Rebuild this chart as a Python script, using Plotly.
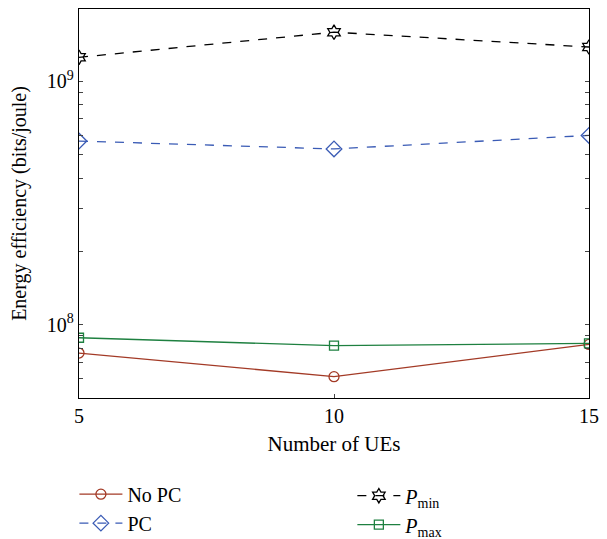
import plotly.graph_objects as go
import numpy as np

ues = [5, 10, 15]
no_pc = [7.65e7, 6.12e7, 8.3e7]
pc = [5.68e8, 5.27e8, 5.99e8]
p_min = [1.254e9, 1.59e9, 1.382e9]
p_max = [8.84e7, 8.2e7, 8.38e7]

FONT = "Liberation Serif"
FS = 20
fig = go.Figure()
fig.add_trace(go.Scatter(x=ues, y=no_pc, name="No PC", mode="lines+markers", legend="legend",
                         line=dict(color="#A33A26", width=1.3),
                         marker=dict(symbol="circle-open", size=10, color="#A33A26", line=dict(width=1.3))))
fig.add_trace(go.Scatter(x=ues, y=pc, name="PC", mode="lines+markers", legend="legend",
                         line=dict(color="#3A5BB5", width=1.3, dash="dash"),
                         marker=dict(symbol="diamond-open", size=12, color="#3A5BB5", line=dict(width=1.3))))
fig.add_trace(go.Scatter(x=ues, y=p_min, name="<i>P</i><sub>min</sub>", mode="lines+markers", legend="legend2",
                         line=dict(color="black", width=1.3, dash="dash"),
                         marker=dict(symbol="hexagram-open", size=11, color="black", line=dict(width=1.3))))
fig.add_trace(go.Scatter(x=ues, y=p_max, name="<i>P</i><sub>max</sub>", mode="lines+markers", legend="legend2",
                         line=dict(color="#1E8040", width=1.3),
                         marker=dict(symbol="square-open", size=9, color="#1E8040", line=dict(width=1.3))))

tickvals = []
ticktext = []
for e in [7, 8, 9]:
    for m in range(1, 10):
        v = m * 10 ** e
        if 5e7 <= v <= 2e9:
            tickvals.append(v)
            ticktext.append(f"10<sup>{e}</sup>" if m == 1 else "")

leg_common = dict(orientation="v", xanchor="left", yanchor="top", bgcolor="rgba(0,0,0,0)",
                  font=dict(family=FONT, size=FS), tracegroupgap=0, itemwidth=43)
fig.update_layout(
    width=607, height=531,
    margin=dict(l=71, r=26, t=1, b=141, autoexpand=False),
    paper_bgcolor="white", plot_bgcolor="white",
    font=dict(family=FONT, size=FS, color="black"),
    showlegend=True,
    legend=dict(x=-0.009, y=-0.197, **leg_common),
    legend2=dict(x=0.536, y=-0.201, **leg_common),
    xaxis=dict(range=[5, 15], tickvals=ues, ticks="inside", ticklen=4, automargin=False,
               ticklabeloverflow="allow",
               showline=True, linecolor="black", linewidth=1.3, mirror=True,
               showgrid=False, zeroline=False, tickfont=dict(size=FS),
               title=dict(text="Number of UEs", font=dict(family=FONT, size=21), standoff=10)),
    yaxis=dict(type="log", range=[np.log10(5e7), np.log10(1.98e9)], automargin=False,
               ticklabeloverflow="allow",
               tickvals=tickvals, ticktext=ticktext, ticks="inside", ticklen=4,
               showline=True, linecolor="black", linewidth=1.3, mirror="ticks",
               showgrid=False, zeroline=False, tickfont=dict(size=FS),
               title=dict(text="Energy efficiency (bits/joule)", font=dict(family=FONT, size=20), standoff=16)),
)
fig.write_html("out.html")
